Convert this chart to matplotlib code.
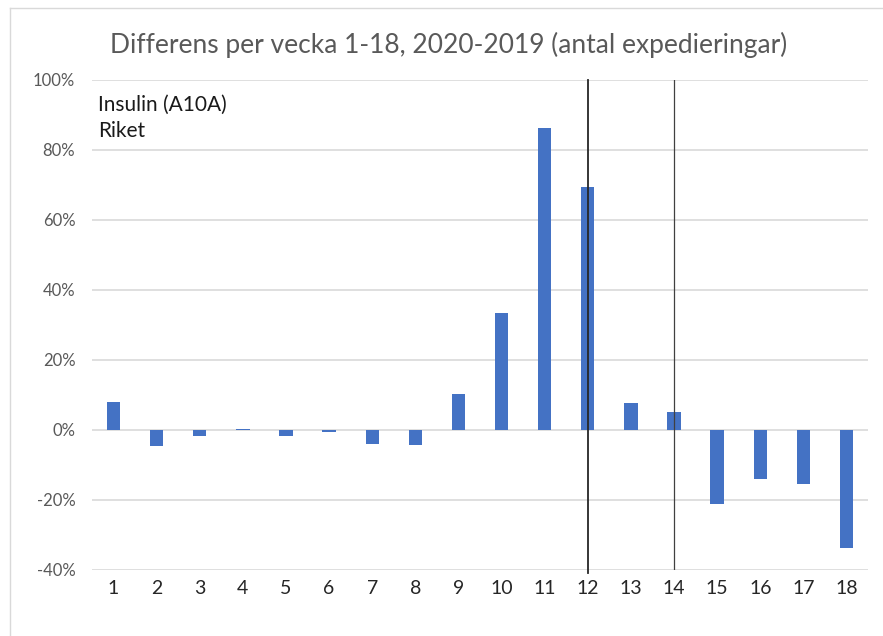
"""
Differens per vecka 1-18, insulin (A10A), Riket
"""

import numpy as np
import matplotlib
matplotlib.use('Agg')
from matplotlib import pyplot as plt
from matplotlib.lines import Line2D

weeks = list(range(1, 19))
diffPct = [8.0, -4.7, -1.6, 0.3, -1.6, -0.6, -3.9, -4.3, 10.2, 33.4,
           86.3, 69.4, 7.7, 5.1, -21.2, -13.9, -15.5, -33.8]
yTicks = [-40, -20, 0, 20, 40, 60, 80, 100]
markWeeks = [12, 14]

plt.rcParams['font.family'] = ['Lato', 'DejaVu Sans']

fig = plt.figure(figsize=(8.83, 6.36), dpi=100)
ax = fig.add_axes([92 / 883, 1 - 570 / 636, (868 - 92) / 883, (570 - 80) / 636])

ax.bar(weeks, diffPct, width=0.31, color='#4472c4', zorder=3)

# vertikala markeringslinjer
ax.axvline(markWeeks[0], ymin=-0.007, ymax=1, color='#262626', lw=1.3, zorder=4, clip_on=False)
ax.axvline(markWeeks[1], ymin=0, ymax=1, color='#404040', lw=0.9, zorder=4)

ax.set_xlim(0.5, 18.5)
ax.set_ylim(-40, 100)
ax.set_yticks(yTicks)
ax.set_yticklabels(['%d%%' % v for v in yTicks], color='#595959', fontsize=12)
ax.set_xticks(weeks)
ax.set_xticklabels([str(w) for w in weeks], color='#262626', fontsize=14)
ax.tick_params(axis='both', length=0)
ax.tick_params(axis='y', pad=12)
ax.tick_params(axis='x', pad=7)
ax.grid(axis='y', color='#d9d9d9', lw=1.2, zorder=0)
for s in ax.spines.values():
    s.set_visible(False)

ax.text(98 / 883, 1 - 105 / 636, 'Insulin (A10A)', transform=fig.transFigure,
        fontsize=15, color='#1a1a1a', va='center')
ax.text(98 / 883, 1 - 131 / 636, 'Riket', transform=fig.transFigure,
        fontsize=15, color='#1a1a1a', va='center')

fig.text(449 / 883, 1 - 45 / 636, 'Differens per vecka 1-18, 2020-2019 (antal expedieringar)',
         ha='center', va='center', fontsize=19, color='#595959')

# ram runt diagrammet
fig.add_artist(Line2D([10 / 883, 1], [1 - 8 / 636, 1 - 8 / 636], transform=fig.transFigure,
                      color='#d9d9d9', lw=1))
fig.add_artist(Line2D([10 / 883, 10 / 883], [0, 1 - 8 / 636], transform=fig.transFigure,
                      color='#d9d9d9', lw=1))

fig.savefig('out.png', dpi=100)
